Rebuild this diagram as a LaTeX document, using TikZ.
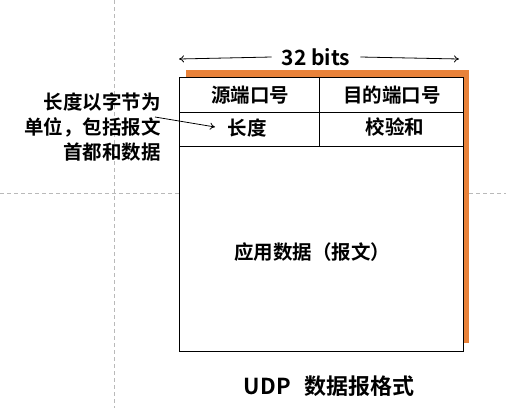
\documentclass[tikz,border=0pt]{standalone}
\usepackage{fontspec}
\setmainfont{Noto Sans CJK SC}[BoldFont={* Bold}]
\usetikzlibrary{arrows, arrows.meta, positioning}
\definecolor{shadoworange}{HTML}{E8823A}

\tikzset{
  field/.style={font=\fontsize{19.5}{22}\selectfont\bfseries},
  guide/.style={gray!55, dash pattern=on 4pt off 3pt, line width=0.7pt},
  pointer/.style={-{To[length=5pt, width=7pt]}, line width=0.8pt},
}

\begin{document}
\begin{tikzpicture}[x=1pt, y=-1pt]
    \useasboundingbox (0,0) rectangle (506,408);
    % guide lines
    \draw[guide] (114,0) -- (114,408);
    \draw[guide] (0,193) -- (506,193);
    % shadow and frame
    \fill[shadoworange] (186,70) rectangle (469,343);
    \draw[fill=white, line width=1pt] (179,77) rectangle (463,351);
    \draw[line width=1pt] (179,112) -- (463,112);
    \draw[line width=1pt] (179,146) -- (463,146);
    \draw[line width=1pt] (319,77) -- (319,146);
    % header fields
    \node[field] (srcport) at (250,95) {源端口号};
    \node[field] (dstport) at (392,95) {目的端口号};
    \node[field] (len) at (247,128) {长度};
    \node[field] (chksum) at (395,127) {校验和};
    \node[field] (payload) at (312,252) {应用数据（报文）};
    \node[field, font=\fontsize{22}{24}\selectfont\bfseries] (caption) at (329,386) {UDP\hspace{0.6em}数据报格式};
    % width
    \node[field, inner xsep=10pt, font=\fontsize{21}{24}\selectfont\bfseries] (bits) at (316,57) {32 bits};
    \coordinate (bitsL) at (179,59);
    \coordinate (bitsR) at (459,59);
    \draw[pointer] (bits.west) -- (bitsL);
    \draw[pointer] (bits.east) -- (bitsR);
    % note on length
    \node[field, align=right, anchor=east, inner sep=0pt,
          font=\fontsize{19.5}{25}\selectfont\bfseries] (note) at (161,127)
        {长度以字节为\\单位，包括报文\\首都和数据};
    \coordinate (noteTail) at (155,117);
    \coordinate (lenTip) at (215,127);
    \draw[pointer] (noteTail) -- (lenTip);
\end{tikzpicture}
\end{document}
